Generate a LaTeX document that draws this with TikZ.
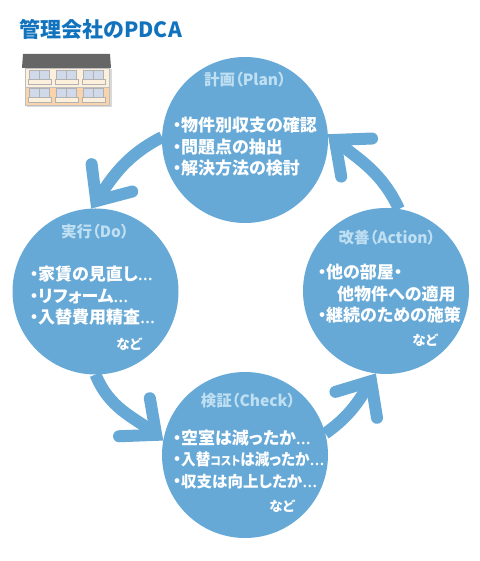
\documentclass[tikz,border=0pt]{standalone}
\usepackage{fontspec}
\setmainfont{Noto Sans CJK JP}[RawFeature=+palt]
\newfontfamily\dotsfont{Noto Sans}
\usetikzlibrary{arrows.meta}
\definecolor{pdcablue}{HTML}{66A9D7}
\definecolor{titleblue}{HTML}{1173BD}
\definecolor{headblue}{HTML}{BFDFF2}
\definecolor{wallupper}{HTML}{FCF0DC}
\definecolor{walllower}{HTML}{F8D3AC}
\definecolor{windowblue}{HTML}{CFD9E9}
\newcommand{\pdcadot}{\makebox[8pt][c]{・}}
\newcommand{\pdcaell}{{\dotsfont\fontsize{19}{21.5}\selectfont …}}
\begin{document}
\begin{tikzpicture}[x=1pt,y=1pt]
      \useasboundingbox (0,0) rectangle (479,561);

      \node[anchor=west,text=titleblue,font=\fontsize{21}{24}\selectfont\bfseries] (title) at (16,531.5) {管理会社のPDCA};

      % building
      \fill[black!15] (27,454) rectangle (111,456);
      \fill[black!15] (109,454) rectangle (112,492);
      \fill[wallupper] (25,474) rectangle (109,493);
      \fill[walllower] (25,456) rectangle (109,474);
      \draw[black!25,line width=0.7pt] (25,456) rectangle (109,493) (25,474) -- (109,474);
      \fill[black!60] (23,507) -- (110,507) -- (111,493) -- (22,493) -- cycle;
      \foreach \col in {0,27,54} {
        \foreach \row/\ybot in {0/477,1/459} {
          \draw[black!30,fill=windowblue,line width=0.7pt] (29+\col,\ybot+5) rectangle (49+\col,\ybot+14);
          \draw[black!30,line width=0.7pt] (39+\col,\ybot+5) -- (39+\col,\ybot+14);
          \draw[black!30,fill=wallupper,line width=0.7pt] (28+\col,\ybot) rectangle (51+\col,\ybot+5);
        }
      }

      \begin{scope}[every node/.style={circle,fill=pdcablue,minimum size=166pt,inner sep=0pt,outer sep=0pt}]
        \node (plan)   at (245,421) {};
        \node (do)     at (95.5,269.5) {};
        \node (action) at (386,270) {};
        \node (check)  at (245,106) {};
      \end{scope}

      \begin{scope}[every edge/.style={draw=pdcablue,line width=12pt,-{Straight Barb[length=28pt,width=49pt,line width=12pt,line cap=round,line join=miter,color=pdcablue]}}]
        \path (plan.178)  edge[out=207,in=56] (do.93.5);
        \path (do.270)    edge[out=-68,in=141] (check.170);
        \path (check.15)  edge[out=35,in=238] (action.263);
        \path (action.81) edge[out=115,in=-39] (plan.4);
      \end{scope}

      \begin{scope}[every node/.style={text=headblue,font=\fontsize{15.5}{18}\selectfont\bfseries}]
        \node (planhead)   at (245,481) {計画（Plan）};
        \node (dohead)     at (95,329) {実行（Do）};
        \node (actionhead) at (387,323) {改善（Action）};
        \node (checkhead)  at (248,160) {検証（Check）};
      \end{scope}

      \begin{scope}[every node/.style={anchor=west,align=left,text=white,inner sep=0pt,font=\fontsize{17}{21.5}\selectfont\bfseries}]
        \node (plantext)   at (173,414) {\pdcadot 物件別収支の確認\\\pdcadot 問題点の抽出\\\pdcadot 解決方法の検討};
        \node (dotext)     at (30,265) {\pdcadot 家賃の見直し\pdcaell\\\pdcadot リフォーム\pdcaell\\\pdcadot 入替費用精査\pdcaell};
        \node (actiontext) at (318,267) {\pdcadot 他の部屋・\\\hspace{19pt}他物件への適用\\\pdcadot 継続のための施策};
        \node (checktext)  at (173,102) {\pdcadot 空室は減ったか\pdcaell\\\pdcadot \scalebox{0.91}[1]{\fontsize{16}{21.5}\selectfont 入替{\fontsize{12}{21.5}\selectfont コスト}は減ったか}\pdcaell\\\pdcadot {\fontsize{15.5}{21.5}\selectfont 収支は向上したか}\pdcaell};
      \end{scope}

      \begin{scope}[every node/.style={text=white,font=\fontsize{13.5}{16}\selectfont\bfseries}]
        \node (doetc)     at (129,217) {など};
        \node (actionetc) at (425,221) {など};
        \node (checketc)  at (282,55) {など};
      \end{scope}

\end{tikzpicture}
\end{document}
